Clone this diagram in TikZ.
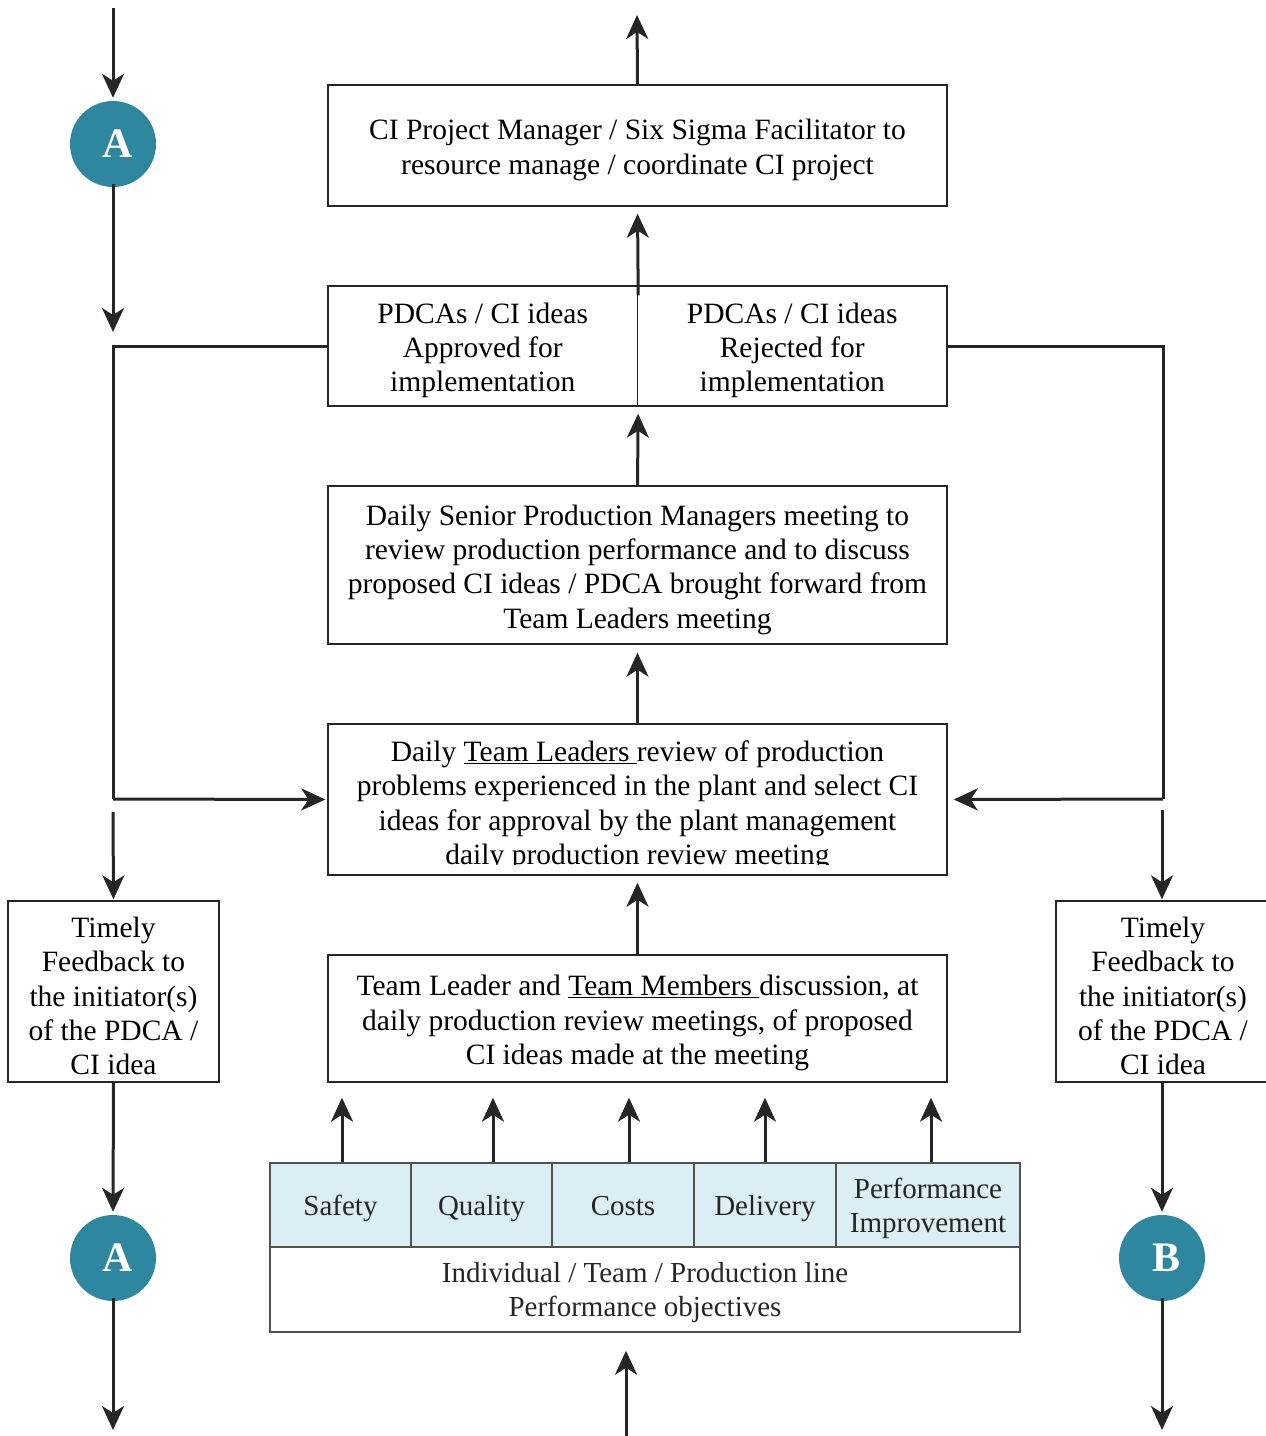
\documentclass[tikz,border=0pt]{standalone}
\usepackage{fontspec}
\setmainfont{LiberationSerif}[Extension=.ttf, UprightFont=*-Regular, BoldFont=*-Bold, ItalicFont=*-Italic, BoldItalicFont=*-BoldItalic]
\usetikzlibrary{arrows.meta,calc}
\definecolor{ink}{HTML}{262626}
\definecolor{discteal}{HTML}{2E879E}
\definecolor{cellblue}{HTML}{DBEEF3}
% extra head room above the first line of a box text
\newcommand\firstlift{\rule{0pt}{29.5pt}}
\newcommand\celllift{\rule{0pt}{27pt}}
\begin{document}
\begin{tikzpicture}[x=1pt,y=-1pt,
  box/.style={draw=ink, line width=1.4pt, fill=white, inner sep=0pt, align=center,
    font=\fontsize{29.5}{34.3}\selectfont, text=black},
  cell/.style={draw=ink!80, line width=1.4pt, inner sep=0pt, align=center,
    font=\fontsize{29}{34}\selectfont, text=ink},
  onecell/.style={cell, text height=26pt, text depth=6pt},
  disc/.style={circle, fill=discteal, minimum size=86pt, inner sep=0pt,
    text=white, font=\fontsize{42}{42}\selectfont\bfseries},
  flow/.style={draw=ink, line width=3pt, -{Stealth[length=24pt,width=22pt,inset=7pt]}},
  path/.style={draw=ink, line width=3pt}
]
\useasboundingbox (0,0) rectangle (1266,1436);

% central column of process boxes
\node[box, minimum width=619pt, minimum height=121pt] (pm) at (637.5,145.5)
  {\firstlift CI Project Manager / Six Sigma Facilitator to\\resource manage / coordinate CI project};
\node[box, minimum width=309.5pt, minimum height=120pt] (pdcaL) at (482.75,346)
  {\firstlift PDCAs / CI ideas\\Approved for\\implementation};
\node[box, minimum width=309.5pt, minimum height=120pt] (pdcaR) at (792.25,346)
  {\firstlift PDCAs / CI ideas\\Rejected for\\implementation};
\node[box, minimum width=619pt, minimum height=158pt] (senior) at (637.5,565)
  {\firstlift Daily Senior Production Managers meeting to\\review production performance and to discuss\\proposed CI ideas / PDCA brought forward from\\Team Leaders meeting};
\node[box, minimum width=619pt, minimum height=151pt] (tl) at (637.5,799.5) {};
\begin{scope}
  \clip (330,726) rectangle (945,864);
  \node[inner sep=0pt, align=center, font=\fontsize{29.5}{34.3}\selectfont, anchor=north] at (637.5,740.5)
    {Daily \underline{Team Leaders\ }review of production\\problems experienced in the plant and select CI\\ideas for approval by the plant management\\daily production review meeting};
\end{scope}
\node[box, minimum width=619pt, minimum height=127pt] (tlm) at (637.5,1018.5)
  {\firstlift Team Leader and \underline{Team Members\ }discussion, at\\daily production review meetings, of proposed\\CI ideas made at the meeting};

% performance objectives table
\node[onecell, fill=cellblue, minimum width=141pt, minimum height=84pt] (safety) at (340.5,1205) {Safety};
\node[onecell, fill=cellblue, minimum width=141pt, minimum height=84pt] (quality) at (481.5,1205) {Quality};
\node[onecell, fill=cellblue, minimum width=142pt, minimum height=84pt] (costs) at (623,1205) {Costs};
\node[onecell, fill=cellblue, minimum width=142pt, minimum height=84pt] (delivery) at (765,1205) {Delivery};
\node[cell, fill=cellblue, minimum width=184pt, minimum height=84pt] (perf) at (928,1205) {\celllift Performance\\Improvement};
\node[cell, fill=white, minimum width=750pt, minimum height=85pt] (objs) at (645,1289.5)
  {\celllift Individual / Team / Production line\\Performance objectives};

% feedback boxes
\node[box, minimum width=211pt, minimum height=181pt] (fbL) at (113.5,991.5)
  {\firstlift Timely\\Feedback to\\the initiator(s)\\of the PDCA /\\CI idea};
\node[box, minimum width=214pt, minimum height=181pt] (fbR) at (1163,991.5)
  {\firstlift Timely\\Feedback to\\the initiator(s)\\of the PDCA /\\CI idea};

% connectors A / B
\node[disc] (aTop) at (113,144) {\raisebox{-5pt}{\hspace{9pt}A}};
\node[disc] (aBot) at (113,1258) {\raisebox{-5pt}{\hspace{9pt}A}};
\node[disc] (bBot) at (1162,1258) {\raisebox{-5pt}{\hspace{9pt}B}};

% free ends and corners
\coordinate (pmOut) at (637,15);
\coordinate (inTop) at (113,8);
\coordinate (lCornT) at (113,346);
\coordinate (lCornB) at (113,799);
\coordinate (rCornT) at (1163,346);
\coordinate (rCornB) at (1163,799);
\coordinate (lFbStart) at (113,812);
\coordinate (rFbStart) at (1162,810);
\coordinate (lOut) at (113,1430);
\coordinate (rOut) at (1162,1430);
\coordinate (bIn) at (626,1436);

% main upward flow
\draw[flow] (pm.north) -- (pmOut);
\draw[flow, shorten >=7pt] (pdcaL.north east) ++(0,10) -- (pm.south);
\draw[flow, shorten >=7pt] (senior.north) -- (pdcaL.south east);
\draw[flow, shorten >=8pt] (tl.north) -- (senior.south);
\draw[flow, shorten >=7pt] (tlm.north) -- (tl.south);
\draw[flow, shorten >=15pt] ([xshift=1.5pt]safety.north) -- ([xshift=1.5pt]safety.north |- tlm.south);
\draw[flow, shorten >=15pt] ([xshift=11.5pt]quality.north) -- ([xshift=11.5pt]quality.north |- tlm.south);
\draw[flow, shorten >=15pt] ([xshift=6pt]costs.north) -- ([xshift=6pt]costs.north |- tlm.south);
\draw[flow, shorten >=15pt] (delivery.north) -- (delivery.north |- tlm.south);
\draw[flow, shorten >=15pt] ([xshift=3pt]perf.north) -- ([xshift=3pt]perf.north |- tlm.south);
\draw[flow, shorten >=18pt] (bIn) -- (bIn |- objs.south);

% approved / rejected loops back to team leaders
\draw[path] (pdcaL.west) -- (lCornT) -- (lCornB);
\draw[flow, shorten >=2pt] (lCornB) -- (tl.west);
\draw[path] (pdcaR.east) -- (rCornT) -- (rCornB);
\draw[flow, shorten >=6pt] (rCornB) -- (tl.east);

% left feedback branch
\draw[flow, shorten >=3pt] (inTop) -- (aTop.north);
\draw[flow, shorten >=14pt] ([yshift=3pt]aTop.south) -- (lCornT);
\draw[flow, shorten >=1pt] (lFbStart) -- (fbL.north);
\draw[flow, shorten >=3pt] (fbL.south) -- (aBot.north);
\draw[flow] ([yshift=3pt]aBot.south) -- (lOut);

% right feedback branch
\draw[flow, shorten >=1pt] (rFbStart) -- (fbR.north -| rFbStart);
\draw[flow, shorten >=3pt] (fbR.south -| bBot) -- (bBot.north);
\draw[flow] ([yshift=3pt]bBot.south) -- (rOut);
\end{tikzpicture}
\end{document}
